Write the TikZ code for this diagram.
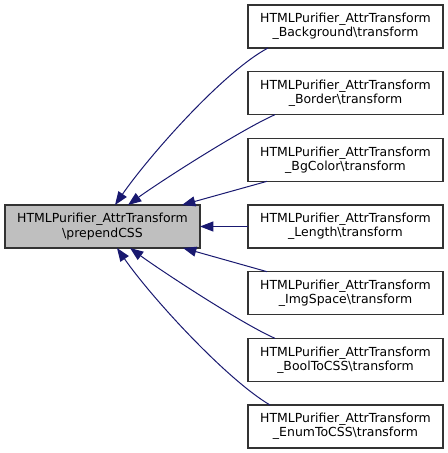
\documentclass[tikz,border=0pt]{standalone}
\usepackage{fontspec}
\setmainfont{DejaVu Sans}
\usetikzlibrary{positioning,arrows.meta}
\definecolor{edgeblue}{HTML}{191970}
\definecolor{fngray}{HTML}{BFBFBF}

\begin{document}
\begin{tikzpicture}[x=0.75pt,y=0.75pt,node distance=17.75pt,
  fnbox/.style={draw=black!80,line width=0.9pt,align=center,minimum width=146.25pt,minimum height=32.25pt,inner sep=2pt,outer sep=0pt,font=\fontsize{9.35}{10.6}\selectfont},
  arr/.style={edgeblue,line width=0.75pt,{Triangle[length=10pt,width=7.5pt]}-}]
\useasboundingbox (0,0) rectangle (448,-453);
\node[fnbox,fill=fngray] (prepend) at (102.5,-226.5) {HTMLPurifier\_AttrTransform\\\textbackslash prependCSS};
\node[fnbox] (background) at (345.5,-26.5) {HTMLPurifier\_AttrTransform\\\_Background\textbackslash transform};
\node[fnbox,below=of background] (border) {HTMLPurifier\_AttrTransform\\\_Border\textbackslash transform};
\node[fnbox,below=of border] (bgcolor) {HTMLPurifier\_AttrTransform\\\_BgColor\textbackslash transform};
\node[fnbox,below=of bgcolor] (length) {HTMLPurifier\_AttrTransform\\\_Length\textbackslash transform};
\node[fnbox,below=of length] (imgspace) {HTMLPurifier\_AttrTransform\\\_ImgSpace\textbackslash transform};
\node[fnbox,below=of imgspace] (booltocss) {HTMLPurifier\_AttrTransform\\\_BoolToCSS\textbackslash transform};
\node[fnbox,below=of booltocss] (enumtocss) {HTMLPurifier\_AttrTransform\\\_EnumToCSS\textbackslash transform};
\draw[arr] ([xshift=82.5pt]prepend.north west) .. controls +(34,49) and +(-45,-24) .. ([xshift=15pt]background.south west);
\draw[arr] ([xshift=92.25pt]prepend.north west) .. controls +(30,22) and +(-34,-15) .. ([xshift=20.25pt]border.south west);
\draw[arr] ([xshift=-13.5pt]prepend.north east) -- ([xshift=14.25pt]bgcolor.south west);
\draw[arr] (prepend.east) -- (length.west);
\draw[arr] ([xshift=-12.75pt]prepend.south east) -- ([xshift=14.25pt]imgspace.north west);
\draw[arr] ([xshift=93.75pt]prepend.south west) .. controls +(30,-22) and +(-34,15) .. ([xshift=20.25pt]booltocss.north west);
\draw[arr] ([xshift=84pt]prepend.south west) .. controls +(34,-49) and +(-44,26) .. ([xshift=16.5pt]enumtocss.north west);
\end{tikzpicture}
\end{document}
